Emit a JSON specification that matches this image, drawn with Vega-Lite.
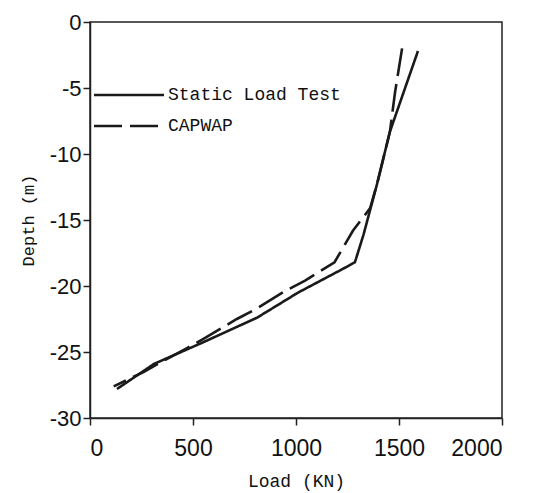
{
  "$schema": "https://vega.github.io/schema/vega-lite/v6.json",
  "autosize": {"type": "none"},
  "padding": {"left": 90, "top": 22, "right": 36, "bottom": 75},
  "width": 412,
  "height": 396,
  "background": "white",
  "config": {
    "view": {"stroke": "#222", "strokeWidth": 1.5},
    "axis": {"domainColor": "#222", "domainWidth": 1.5, "tickColor": "#222", "tickWidth": 1.5, "tickSize": 7, "grid": false, "labelColor": "#111", "titleColor": "#111"}
  },
  "data": {
    "values": [
      {"series": "Static Load Test", "load": 1592, "depth": -2.2},
      {"series": "Static Load Test", "load": 1456, "depth": -8.3},
      {"series": "Static Load Test", "load": 1393, "depth": -12.3},
      {"series": "Static Load Test", "load": 1328, "depth": -16.1},
      {"series": "Static Load Test", "load": 1286, "depth": -18.2},
      {"series": "Static Load Test", "load": 1228, "depth": -18.7},
      {"series": "Static Load Test", "load": 1010, "depth": -20.5},
      {"series": "Static Load Test", "load": 811, "depth": -22.4},
      {"series": "Static Load Test", "load": 544, "depth": -24.3},
      {"series": "Static Load Test", "load": 311, "depth": -25.9},
      {"series": "Static Load Test", "load": 131, "depth": -27.8},
      {"series": "CAPWAP", "load": 1515, "depth": -2.0},
      {"series": "CAPWAP", "load": 1481, "depth": -5.3},
      {"series": "CAPWAP", "load": 1456, "depth": -8.3},
      {"series": "CAPWAP", "load": 1393, "depth": -12.3},
      {"series": "CAPWAP", "load": 1360, "depth": -14.1},
      {"series": "CAPWAP", "load": 1277, "depth": -15.8},
      {"series": "CAPWAP", "load": 1187, "depth": -18.2},
      {"series": "CAPWAP", "load": 1044, "depth": -19.6},
      {"series": "CAPWAP", "load": 945, "depth": -20.4},
      {"series": "CAPWAP", "load": 811, "depth": -21.7},
      {"series": "CAPWAP", "load": 713, "depth": -22.5},
      {"series": "CAPWAP", "load": 563, "depth": -23.9},
      {"series": "CAPWAP", "load": 471, "depth": -24.7},
      {"series": "CAPWAP", "load": 330, "depth": -25.9},
      {"series": "CAPWAP", "load": 262, "depth": -26.5},
      {"series": "CAPWAP", "load": 115, "depth": -27.6}
    ]
  },
  "mark": {"type": "line", "color": "#1a1a1a", "strokeWidth": 2.6},
  "encoding": {
    "x": {
      "field": "load", "type": "quantitative",
      "scale": {"domain": [0, 2000], "nice": false},
      "axis": {"values": [0, 500, 1000, 1500, 2000], "labelFont": "Liberation Sans", "labelFontSize": 23, "labelPadding": 12, "labelExpr": "'' + datum.value", "title": "Load (KN)", "titleFont": "Liberation Mono", "titleFontSize": 18, "titleFontWeight": "normal", "titlePadding": 12}
    },
    "y": {
      "field": "depth", "type": "quantitative",
      "scale": {"domain": [-30, 0], "nice": false},
      "axis": {"values": [0, -5, -10, -15, -20, -25, -30], "labelFont": "Liberation Sans", "labelFontSize": 22, "labelPadding": 2, "labelExpr": "'' + datum.value", "title": "Depth (m)", "titleFont": "Liberation Mono", "titleFontSize": 17, "titleFontWeight": "normal", "titlePadding": 12}
    },
    "order": {"field": "depth", "type": "quantitative", "sort": "descending"},
    "strokeDash": {
      "field": "series", "type": "nominal",
      "scale": {"domain": ["Static Load Test", "CAPWAP"], "range": [[1, 0], [28, 8]]},
      "legend": {
        "orient": "none", "legendX": 30, "legendY": 64, "title": null, "padding": 0,
        "symbolType": "M-5,0H5", "symbolSize": 196, "symbolStrokeWidth": 2.6, "symbolStrokeColor": "#1a1a1a",
        "labelFont": "Liberation Mono", "labelFontSize": 18, "labelColor": "#111", "labelOffset": 30, "labelLimit": 0, "rowPadding": 13
      }
    }
  }
}
